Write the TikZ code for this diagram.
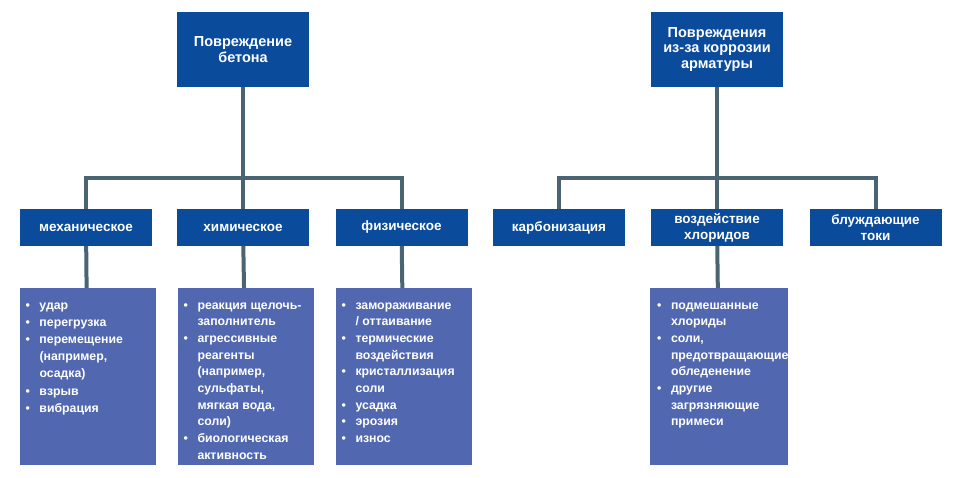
\documentclass[tikz,border=0pt]{standalone}
\usepackage{fontspec}
\setmainfont{Liberation Sans}
\usepackage{tikz}
\definecolor{headblue}{RGB}{10,75,155}
\definecolor{leafblue}{RGB}{81,104,176}
\definecolor{linkgray}{RGB}{75,100,115}
\newcommand{\bul}{\makebox[14pt][l]{\textbullet}}
\newcommand{\ind}{\hspace*{14pt}}
\newcommand{\leaftext}[1]{\parbox[c][165pt][t]{124pt}{\raggedright\rule{0pt}{15pt}#1}}
\tikzset{
  headbox/.style={rectangle,fill=headblue,text=white,minimum width=132pt,minimum height=75pt,
    font=\fontsize{14.5}{15.5}\selectfont\bfseries,align=center,inner sep=2pt},
  midbox/.style={rectangle,fill=headblue,text=white,minimum width=132pt,minimum height=37pt,
    font=\fontsize{13.5}{16}\selectfont\bfseries,align=center,inner sep=2pt},
  leafbox/.style={rectangle,fill=leafblue,text=white,minimum width=136pt,minimum height=177pt,
    font=\fontsize{12.3}{16.7}\selectfont\bfseries,inner xsep=6pt,inner ysep=6pt},
  link/.style={draw=linkgray,line width=4pt}
}
\begin{document}
\begin{tikzpicture}[x=1pt,y=-1pt]
  \useasboundingbox (0,0) rectangle (960,478);
  \node[headbox] (concrete) at (243,49.5) {Повреждение\\бетона};
  \node[headbox] (corrosion) at (717,49.5) {Повреждения\\из-за коррозии\\арматуры};

  \node[midbox] (mech) at (86,227.5) {механическое};
  \node[midbox] (chem) at (243,227.5) {химическое};
  \node[midbox] (phys) at (401.5,227.5) {физическое};
  \node[midbox] (carb) at (559,227.5) {карбонизация};
  \node[midbox] (chlor) at (717,227.5) {воздействие\\хлоридов};
  \node[midbox] (stray) at (875.5,227.5) {блуждающие\\токи};

  \node[leafbox,font=\fontsize{12.3}{17.2}\selectfont\bfseries] (mechL) at (87.5,376.5) {\leaftext{\bul удар\\ \bul перегрузка\\ \bul перемещение\\ \ind(например,\\ \ind осадка)\\ \bul взрыв\\ \bul вибрация}};
  \node[leafbox] (chemL) at (245.5,376.5) {\leaftext{\bul реакция щелочь-\\ \ind заполнитель\\ \bul агрессивные\\ \ind реагенты\\ \ind(например,\\ \ind сульфаты,\\ \ind мягкая вода,\\ \ind соли)\\ \bul биологическая\\ \ind активность}};
  \node[leafbox] (physL) at (403.5,376.5) {\leaftext{\bul замораживание\\ \ind/ оттаивание\\ \bul термические\\ \ind воздействия\\ \bul кристаллизация\\ \ind соли\\ \bul усадка\\ \bul эрозия\\ \bul износ}};
  \node[leafbox,minimum width=138pt] (chlorL) at (719,376.5) {\leaftext{\bul подмешанные\\ \ind хлориды\\ \bul соли,\\ \ind предотвращающие\\ \ind обледенение\\ \bul другие\\ \ind загрязняющие\\ \ind примеси}};

  \draw[link] (concrete) -- (chem);
  \draw[link] (mech.north) -- ++(0,-31) -| (phys.north);
  \draw[link] (mech) -- (mechL);
  \draw[link] (chem) -- (chemL);
  \draw[link] (phys) -- (physL);

  \draw[link] (corrosion) -- (chlor);
  \draw[link] (carb.north) -- ++(0,-31) -| (stray.north);
  \draw[link] (chlor) -- (chlorL);
\end{tikzpicture}
\end{document}
